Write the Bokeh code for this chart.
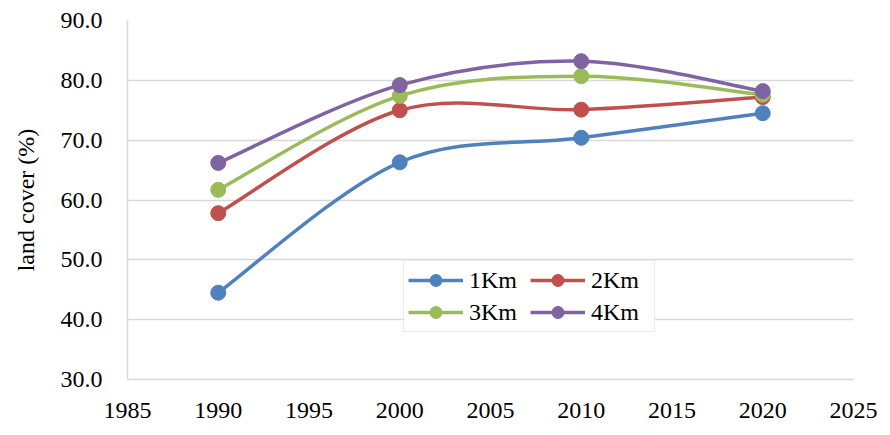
from bokeh.plotting import figure
from bokeh.models import Legend, LegendItem, Range1d, SingleIntervalTicker, NumeralTickFormatter
from bokeh.embed import file_html
from bokeh.resources import INLINE

# Land cover share (%) by buffer distance around the site
years = [1990, 2000, 2010, 2020]
cover_1km = [44.5, 66.3, 70.4, 74.5]
cover_2km = [57.8, 75.0, 75.1, 77.2]
cover_3km = [61.7, 77.4, 80.7, 77.6]
cover_4km = [66.2, 79.2, 83.2, 78.2]

series_names = ["1Km", "2Km", "3Km", "4Km"]
series_values = [cover_1km, cover_2km, cover_3km, cover_4km]
series_colors = ["#4F81BD", "#C0504D", "#9BBB59", "#8064A2"]

FONT = "'Liberation Serif', 'Times New Roman', serif"
GRID = "#D9D9D9"


def smooth_segments(xs, ys):
    """Cubic Bezier segments (Catmull-Rom style) through the given points."""
    n = len(xs)
    seg = dict(x0=[], y0=[], x1=[], y1=[], cx0=[], cy0=[], cx1=[], cy1=[])
    for i in range(n - 1):
        ip = max(i - 1, 0)
        inx = min(i + 2, n - 1)
        seg["x0"].append(xs[i]); seg["y0"].append(ys[i])
        seg["x1"].append(xs[i + 1]); seg["y1"].append(ys[i + 1])
        seg["cx0"].append(xs[i] + (xs[i + 1] - xs[ip]) / 6.0)
        seg["cy0"].append(ys[i] + (ys[i + 1] - ys[ip]) / 6.0)
        seg["cx1"].append(xs[i + 1] - (xs[inx] - xs[i]) / 6.0)
        seg["cy1"].append(ys[i + 1] - (ys[inx] - ys[i]) / 6.0)
    return seg


p = figure(
    width=890, height=435,
    output_backend="svg", toolbar_location=None,
    x_range=Range1d(1985, 2025), y_range=Range1d(30, 90),
    min_border_left=127, min_border_right=37,
    min_border_top=20, min_border_bottom=56,
    background_fill_color="white", border_fill_color="white",
)
p.outline_line_color = None

# axes
p.xaxis.ticker = SingleIntervalTicker(interval=5)
p.yaxis.ticker = SingleIntervalTicker(interval=10)
p.yaxis.formatter = NumeralTickFormatter(format="0.0")
p.yaxis.axis_label = "land cover (%)"
for ax in (p.xaxis[0], p.yaxis[0]):
    ax.axis_line_color = GRID
    ax.axis_line_width = 1.5
    ax.major_tick_line_color = None
    ax.minor_tick_line_color = None
    ax.major_tick_in = 0
    ax.major_tick_out = 0
    ax.minor_tick_in = 0
    ax.minor_tick_out = 0
    ax.major_label_text_font = FONT
    ax.major_label_text_font_size = "24px"
    ax.major_label_text_color = "#000000"
    ax.axis_label_text_font = FONT
    ax.axis_label_text_font_size = "24px"
    ax.axis_label_text_font_style = "normal"
    ax.axis_label_text_color = "#000000"
p.yaxis.major_label_standoff = 25
p.yaxis.axis_label_standoff = 19
p.xaxis.major_label_standoff = 23

p.xgrid.grid_line_color = None
p.ygrid.grid_line_color = GRID
p.ygrid.grid_line_width = 1.5

items = []
for name, vals, color in zip(series_names, series_values, series_colors):
    seg = smooth_segments(years, vals)
    curve = p.bezier(x0="x0", y0="y0", x1="x1", y1="y1",
                     cx0="cx0", cy0="cy0", cx1="cx1", cy1="cy1",
                     source=seg, line_color=color, line_width=3.5)
    dots = p.scatter(years, vals, size=15, marker="circle",
                     fill_color=color, line_color=color)
    items.append(LegendItem(label=name, renderers=[curve, dots]))

legend = Legend(
    items=items,
    location=(276, 47),
    orientation="horizontal", nrows=2, ncols=2,
    glyph_width=55, glyph_height=30,
    label_width=59, label_standoff=6,
    spacing=2, padding=4, margin=0,
    label_text_font=FONT, label_text_font_size="24px",
    label_text_color="#000000",
    border_line_color=GRID, border_line_width=1.5,
    background_fill_color="white", background_fill_alpha=1.0,
)
p.add_layout(legend, "center")

open("out.html", "w").write(file_html(p, INLINE))
